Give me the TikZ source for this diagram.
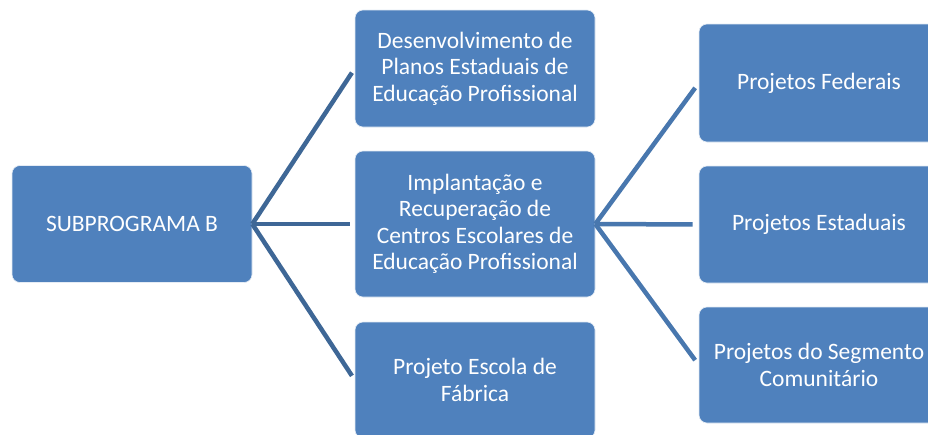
\documentclass[tikz,border=0pt]{standalone}
\usepackage{fontspec}
\setmainfont{Carlito}
\definecolor{boxblue}{HTML}{4F81BD}
\definecolor{lineA}{HTML}{3E6796}
\definecolor{lineB}{HTML}{4877AE}
\begin{document}
\begin{tikzpicture}[x=1pt,y=-1pt,
  box/.style={rectangle, rounded corners=8pt, fill=boxblue, draw=white!85!boxblue, line width=0.6pt,
    minimum width=240pt, text=white, align=center, inner sep=2pt,
    font=\fontsize{23.5}{26.5}\selectfont},
  linkA/.style={draw=lineA, line width=4.5pt, shorten >=5pt},
  linkB/.style={draw=lineB, line width=4.5pt, shorten >=6pt}]
\useasboundingbox[fill=white] (0,0) rectangle (928,434);
\node[box, minimum height=117pt] (root) at (132,224) {SUBPROGRAMA B};
\node[box, minimum height=117pt] (m1) at (475,68.5) {Desenvolvimento de\\Planos Estaduais de\\Educação Profissional};
\node[box, minimum height=146pt] (m2) at (475,224) {Implantação e\\Recuperação de\\Centros Escolares de\\Educação Profissional};
\node[box, minimum height=116pt] (m3) at (475,380) {Projeto Escola de\\Fábrica};
\node[box, minimum height=118pt] (r1) at (819,83) {Projetos Federais};
\node[box, minimum height=117pt] (r2) at (819,224.5) {Projetos Estaduais};
\node[box, minimum height=116pt] (r3) at (819,365) {Projetos do Segmento\\Comunitário};
\draw[linkA] (root.east) -- (m1.west);
\draw[linkA] (root.east) -- (m2.west);
\draw[linkA] (root.east) -- (m3.west);
\draw[linkB] (m2.east) -- (r1.west);
\draw[linkB] (m2.east) -- (r2.west);
\draw[linkB] (m2.east) -- (r3.west);
\end{tikzpicture}
\end{document}
